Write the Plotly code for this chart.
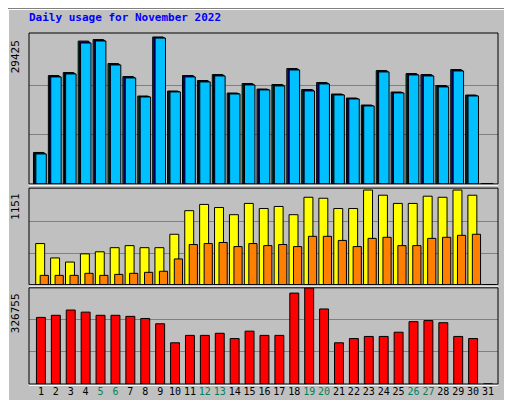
import plotly.graph_objects as go

days = list(range(1, 32))
weekend = [5, 6, 12, 13, 19, 20, 26, 27]

# values (day 31 has no data)
hits = [6300, 21700, 22300, 28600, 28900, 24100, 21500, 17600, 29425, 18600,
        21700, 20700, 21900, 18200, 20100, 19000, 19900, 23100, 18900, 20300,
        18000, 17200, 15800, 22700, 18400, 22100, 21900, 19700, 22900, 17800, 0]
files = [6150, 21550, 22150, 28400, 28750, 23950, 21350, 17500, 29300, 18500,
         21600, 20550, 21750, 18100, 19950, 18900, 19800, 22950, 18800, 20150,
         17900, 17100, 15700, 22550, 18300, 21950, 21750, 19550, 22750, 17700, 0]
pages = [6000, 21420, 22020, 28220, 28620, 23820, 21220, 17410, 29200, 18420,
         21420, 20420, 21620, 18010, 19820, 18820, 19620, 22820, 18620, 20020,
         17810, 17010, 15610, 22420, 18220, 21820, 21620, 19420, 22620, 17610, 0]
visits = [500, 325, 275, 375, 400, 450, 475, 450, 450, 613,
          900, 976, 938, 851, 988, 926, 951, 851, 1063, 1051,
          926, 926, 1151, 1088, 988, 988, 1076, 1063, 1151, 1088, 0]
sites = [113, 113, 113, 138, 113, 125, 138, 150, 163, 313,
         488, 500, 513, 463, 500, 475, 488, 463, 588, 588,
         538, 463, 563, 576, 475, 475, 563, 576, 600, 613, 0]
kbytes = [226215, 233397, 251350, 244169, 233397, 233397, 229806, 222624, 204670, 140038,
          165173, 165173, 172355, 154401, 179536, 165173, 165173, 308801, 326755, 254941,
          140038, 154401, 161582, 161582, 175946, 211852, 215443, 208261, 161582, 154401, 0]

max_hits = 29425
max_visits = 1151
max_kb = 326755

font = "DejaVu Sans Mono"
line = dict(color="black", width=1)

fig = go.Figure()
fig.add_trace(go.Bar(x=days, y=hits, offset=-0.5, width=0.7, marker=dict(color="#00805c", line=line), xaxis="x", yaxis="y"))
fig.add_trace(go.Bar(x=days, y=files, offset=-0.42, width=0.7, marker=dict(color="#0000ff", line=line), xaxis="x", yaxis="y"))
fig.add_trace(go.Bar(x=days, y=pages, offset=-0.34, width=0.7, marker=dict(color="#00c0ff", line=line), xaxis="x", yaxis="y"))
fig.add_trace(go.Bar(x=days, y=visits, offset=-0.35, width=0.6, marker=dict(color="#ffff00", line=line), xaxis="x2", yaxis="y2"))
fig.add_trace(go.Bar(x=days, y=sites, offset=-0.05, width=0.55, marker=dict(color="#ff8000", line=line), xaxis="x2", yaxis="y2"))
fig.add_trace(go.Bar(x=days, y=kbytes, offset=-0.3, width=0.6, marker=dict(color="#ff0000", line=line), xaxis="x3", yaxis="y3"))

ticktext = ['<span style="color:#00805c">%d</span>' % d if d in weekend else str(d) for d in days]
xr = [0.2, 31.67]
grid = dict(showgrid=True, gridcolor="#808080", gridwidth=1, zeroline=False, showticklabels=False, ticks="")
fig.update_layout(
    width=512, height=400, showlegend=False, barmode="overlay",
    paper_bgcolor="#c0c0c0", plot_bgcolor="#c0c0c0",
    margin=dict(l=21, r=22, t=25, b=24),
    font=dict(family=font, size=11, color="black"),
    xaxis=dict(range=xr, showticklabels=False, showgrid=False, domain=[0, 1], anchor="y"),
    xaxis2=dict(range=xr, showticklabels=False, showgrid=False, domain=[0, 1], anchor="y2"),
    xaxis3=dict(range=xr, tickvals=days, ticktext=ticktext, showgrid=False, domain=[0, 1], anchor="y3",
                ticks="", tickangle=0, tickfont=dict(family=font, size=10, color="black")),
    yaxis=dict(domain=[0.57, 1], range=[0, max_hits * 1.027], tickvals=[max_hits / 3, max_hits * 2 / 3], **grid),
    yaxis2=dict(domain=[0.283, 0.558], range=[0, max_visits * 1.02], tickvals=[max_visits / 3, max_visits * 2 / 3], **grid),
    yaxis3=dict(domain=[0, 0.274], range=[0, max_kb * 1.0], tickvals=[max_kb / 3, max_kb * 2 / 3], **grid),
)

# panel frames and outer bevel
for y0, y1 in [(0.57, 1), (0.283, 0.558), (0, 0.274)]:
    fig.add_shape(type="rect", xref="paper", yref="paper", x0=0, x1=1, y0=y0, y1=y1,
                  line=dict(color="black", width=1))
    fig.add_shape(type="line", xref="paper", yref="paper", x0=0, x1=1, y0=y0 - 0.004, y1=y0 - 0.004,
                  line=dict(color="white", width=1))
fig.add_shape(type="rect", xref="paper", yref="paper", x0=-21 / 469, x1=1 + 20 / 469, y0=-22 / 351, y1=1 + 24 / 351,
              line=dict(color="white", width=2))
fig.add_shape(type="rect", xref="paper", yref="paper", x0=-22 / 469, x1=1 + 22 / 469, y0=-24 / 351, y1=1 + 25 / 351,
              line=dict(color="black", width=1))

ann = [
    dict(text="<b>Daily usage for November 2022</b>", x=-2 / 469, y=1 + 16 / 351, xanchor="left", yanchor="middle",
         font=dict(color="#0000ff", size=11)),
    dict(text="29425", x=-5 / 469, xanchor="right", y=0.985, yanchor="top", textangle=-90),
    dict(text="1151", x=-5 / 469, xanchor="right", y=0.55, yanchor="top", textangle=-90),
    dict(text="326755", x=-5 / 469, xanchor="right", y=0.266, yanchor="top", textangle=-90),
    dict(text='<span style="color:#00c0ff">Pages</span> / <span style="color:#0000ff">Files</span> / '
              '<span style="color:#00805c">Hits</span>', x=1 + 3 / 469, xanchor="left", y=1, yanchor="top",
         textangle=-90),
    dict(text='<span style="color:#ff8000">Sites</span> / <span style="color:#ffff00">Visits</span>',
         x=1 + 3 / 469, xanchor="left", y=0.558, yanchor="top", textangle=-90),
    dict(text='<span style="color:#ff0000">KBytes</span>', x=1 + 3 / 469, xanchor="left", y=0.0,
         yanchor="bottom", textangle=-90),
]
for a in ann:
    fig.add_annotation(xref="paper", yref="paper", showarrow=False, **a)

fig.write_html("out.html")
